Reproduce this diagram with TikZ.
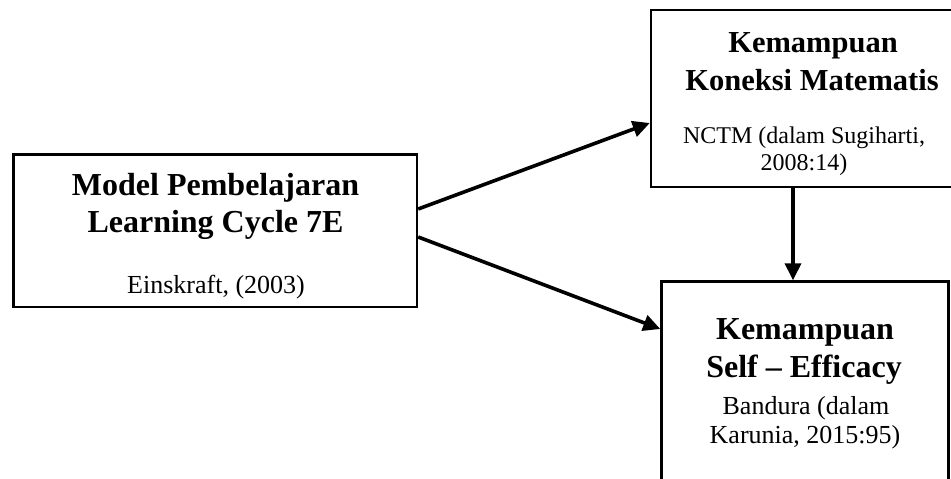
\documentclass[tikz,border=0pt]{standalone}
\usepackage{fontspec}
\setmainfont{Liberation Serif}
\usetikzlibrary{arrows.meta}
\begin{document}
\begin{tikzpicture}[x=1pt,y=-1pt,
  box/.style={draw, line width=2.4pt, rectangle, inner sep=0pt},
  conn/.style={line width=3.6pt, -{Triangle[length=17pt,width=16pt]}},
  hd/.style={font=\fontsize{32}{38}\selectfont\bfseries, inner sep=0pt, anchor=base},
  hdsmall/.style={font=\fontsize{30.5}{36}\selectfont\bfseries, inner sep=0pt, anchor=base},
  cite/.style={font=\fontsize{26}{30}\selectfont, inner sep=0pt, anchor=base},
  citesmall/.style={font=\fontsize{24}{28}\selectfont, inner sep=0pt, anchor=base}]
\useasboundingbox (0,0) rectangle (951,479);
\clip (0,0) rectangle (951,479);
% boxes
\node[box, minimum width=403.5pt, minimum height=152.5pt] (L) at (215.25,230.75) {};
\node[box, minimum width=324pt, minimum height=177pt] (T) at (813,98.5) {};
\node[box, minimum width=287pt, minimum height=213.5pt] (B) at (805,388.25) {};
% left box text
\node[hd] (l1) at (215.5,195) {Model Pembelajaran};
\node[hd] (l2) at (215.5,232) {Learning Cycle 7E};
\node[cite] (l3) at (216,293) {Einskraft, (2003)};
% top box text
\node[hdsmall] (t1) at (813,52) {Kemampuan};
\node[hdsmall] (t2) at (812,90) {Koneksi Matematis};
\node[citesmall] (t3) at (804,143) {NCTM (dalam Sugiharti,};
\node[citesmall] (t4) at (804,170) {2008:14)};
% bottom box text
\node[hd] (b1) at (805,339) {Kemampuan};
\node[hd] (b2) at (804,377) {Self \textendash{} Efficacy};
\node[cite] (b3) at (806,414) {Bandura (dalam};
\node[cite] (b4) at (805,443) {Karunia, 2015:95)};
% connectors
\draw[conn] ([yshift=21.75pt]L.east) -- ([yshift=-24.5pt]T.west);
\draw[conn] ([yshift=-6.25pt]L.east) -- ([yshift=59.25pt]B.west);
\draw[conn] ([xshift=-20pt]T.south) -- ([xshift=-12pt]B.north);
\end{tikzpicture}
\end{document}
